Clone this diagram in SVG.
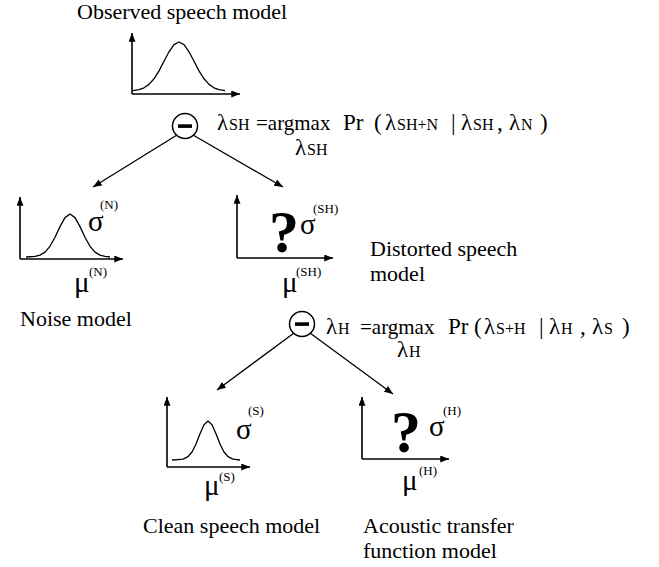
<svg xmlns="http://www.w3.org/2000/svg" width="659" height="567" viewBox="0 0 659 567">
<style>
text{font-family:"Liberation Serif","Times New Roman",serif;fill:#000}
.cap{font-size:22px}
.gr{font-size:29px}
.sup{font-size:13px}
.q{font-size:60px;font-weight:bold}
.lam{font-size:23px}
.sub{font-size:16px}
.arg{font-size:21px}
.ax{fill:none;stroke:#000;stroke-width:1.6}
.cv{fill:none;stroke:#000;stroke-width:1.3;stroke-linejoin:round}
.ln{fill:none;stroke:#000;stroke-width:1.3}
.op{fill:#fff;stroke:#000;stroke-width:1.5}
</style>
<defs>
<marker id="ah" viewBox="0 0 10 8" refX="10" refY="4" markerWidth="9" markerHeight="7" markerUnits="userSpaceOnUse" orient="auto"><path d="M0,0 L10,4 L0,8 Z" fill="#000"/></marker>
</defs>
<rect width="659" height="567" fill="#fff"/>

<g id="observed">
<text class="cap" x="77" y="19">Observed speech model</text>
<path class="ax" d="M132,94 V33" marker-end="url(#ah)"/>
<path class="ax" d="M132,94 H240" marker-end="url(#ah)"/>
<polyline class="cv" points="133,90.6 139,89.6 144,87.8 149,84.4 154,78.8 159,70.9 164,61.3 169,51.8 174,44.6 179,42 184,44.6 189,51.8 194,61.3 199,70.9 204,78.8 209,84.4 214,87.8 219,89.6 225,90.6"/>
</g>

<g id="op1">
<circle class="op" cx="185" cy="126" r="12.5"/>
<rect x="178" y="124.3" width="14" height="3.6" fill="#000"/>
<text y="130"><tspan class="lam" x="217">λ</tspan><tspan class="sub" x="229">SH</tspan><tspan class="arg" x="256">=argmax</tspan><tspan class="lam" x="343">Pr</tspan><tspan class="lam" x="374">(</tspan><tspan class="lam" x="385">λ</tspan><tspan class="sub" x="397">SH+N</tspan><tspan class="lam" x="451">|</tspan><tspan class="lam" x="461">λ</tspan><tspan class="sub" x="473">SH</tspan><tspan class="lam" x="497">,</tspan><tspan class="lam" x="509">λ</tspan><tspan class="sub" x="521">N</tspan><tspan class="lam" x="540">)</tspan></text>
<text y="155"><tspan class="lam" x="295">λ</tspan><tspan class="sub" x="307">SH</tspan></text>
</g>

<g id="noise">
<path class="ax" d="M20,259 V197" marker-end="url(#ah)"/>
<path class="ax" d="M20,259 H123" marker-end="url(#ah)"/>
<polyline class="cv" points="26,257 35,256.4 40,255.1 45,252.1 50,246.3 55,237.3 60,226.6 65,217.6 70,214 75,217.6 80,226.6 85,237.3 90,246.3 95,252.1 100,255.1 105,256.4 110,257"/>
<text class="gr" x="88" y="231">σ</text>
<text class="sup" x="100" y="209">(N)</text>
<text class="gr" x="74" y="292">μ</text>
<text class="sup" x="89" y="276">(N)</text>
<text class="cap" x="20" y="326">Noise model</text>
</g>

<g id="distorted">
<path class="ax" d="M237,258 V195" marker-end="url(#ah)"/>
<path class="ax" d="M237,258 H333" marker-end="url(#ah)"/>
<text class="q" x="269" y="252">?</text>
<text class="gr" x="300" y="234">σ</text>
<text class="sup" x="313" y="213">(SH)</text>
<text class="gr" x="282" y="292">μ</text>
<text class="sup" x="296" y="276">(SH)</text>
<text class="cap" x="370" y="256">Distorted speech</text>
<text class="cap" x="370" y="281">model</text>
</g>

<g id="op2">
<circle class="op" cx="302" cy="324" r="12.5"/>
<rect x="295" y="322.3" width="14" height="3.6" fill="#000"/>
<text y="334"><tspan class="lam" x="326">λ</tspan><tspan class="sub" x="338">H</tspan><tspan class="arg" x="360">=argmax</tspan><tspan class="lam" x="448">Pr</tspan><tspan class="lam" x="474">(</tspan><tspan class="lam" x="484">λ</tspan><tspan class="sub" x="496">S+H</tspan><tspan class="lam" x="539">|</tspan><tspan class="lam" x="549">λ</tspan><tspan class="sub" x="561">H</tspan><tspan class="lam" x="580">,</tspan><tspan class="lam" x="592">λ</tspan><tspan class="sub" x="604">S</tspan><tspan class="lam" x="622">)</tspan></text>
<text y="357"><tspan class="lam" x="397">λ</tspan><tspan class="sub" x="409">H</tspan></text>
</g>

<g id="clean">
<path class="ax" d="M167,467 V397" marker-end="url(#ah)"/>
<path class="ax" d="M167,467 H250" marker-end="url(#ah)"/>
<polyline class="cv" points="172,460 178,459.6 183,459.2 188,456.7 192,452 196,444 200,433.7 204,424.7 208,421 212,424.7 216,433.7 220,444 224,452 228,456.7 233,459.2 240,460"/>
<text class="gr" x="236" y="439">σ</text>
<text class="sup" x="248" y="415">(S)</text>
<text class="gr" x="204" y="495">μ</text>
<text class="sup" x="219" y="481">(S)</text>
<text class="cap" x="143" y="533" font-size="21">Clean speech model</text>
</g>

<g id="acoustic">
<path class="ax" d="M362,459 V397" marker-end="url(#ah)"/>
<path class="ax" d="M362,459 H449" marker-end="url(#ah)"/>
<text class="q" x="391" y="452">?</text>
<text class="gr" x="429" y="436">σ</text>
<text class="sup" x="443" y="415">(H)</text>
<text class="gr" x="402" y="490">μ</text>
<text class="sup" x="419" y="475">(H)</text>
<text class="cap" x="363" y="533">Acoustic transfer</text>
<text class="cap" x="363" y="558">function model</text>
</g>

<g id="connectors">
<path class="ln" d="M177,135 L93,187" marker-end="url(#ah)"/>
<path class="ln" d="M193,135 L283,187" marker-end="url(#ah)"/>
<path class="ln" d="M294,333 L217,390" marker-end="url(#ah)"/>
<path class="ln" d="M310,333 L393,394" marker-end="url(#ah)"/>
</g>
</svg>
